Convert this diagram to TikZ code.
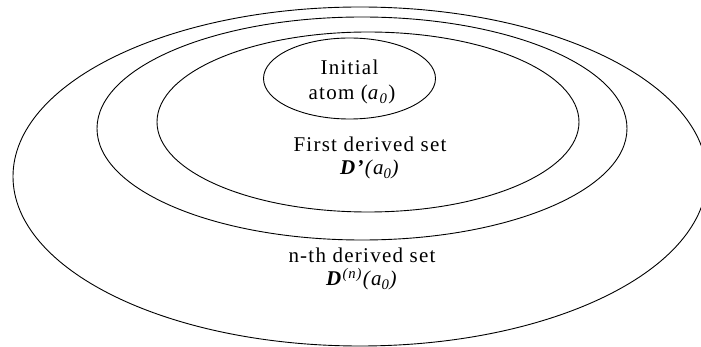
\documentclass[tikz,border=0pt]{standalone}
\usepackage{fontspec}
\setmainfont{Liberation Serif}[LetterSpace=6]
\usepackage{tikz}
\usetikzlibrary{shapes.geometric,positioning}
\newcommand{\azero}{\textit{a}\textsubscript{\textit{0}}}

\begin{document}
\begin{tikzpicture}[
  x=1pt, y=-1pt,
  set/.style={ellipse, draw, line width=0.9pt, inner sep=0pt},
  lbl/.style={anchor=base, inner sep=0pt, font=\fontsize{21}{25}\selectfont},
]
\useasboundingbox (0,0) rectangle (701,347);

% ---------------- nested sets ----------------
\node (nth)   [set, minimum width=694pt, minimum height=339pt] at (360,176.5) {};
\node (mid)   [set, minimum width=530pt, minimum height=223pt] at (362,128.5) {};
\node (first) [set, minimum width=422pt, minimum height=180pt] at (368,122) {};
\node (atom)  [set, minimum width=172pt, minimum height=81pt]  at (349.5,78.5) {};

% ---------------- labels ----------------
\node (atomA)  [lbl] at (349.5,75) {Initial};
\node (atomB)  [lbl] at (352,100)  {atom (\azero)};
\node (firstA) [lbl] at (370,152)  {First derived set};
\node (firstB) [lbl] at (370,175)  {\textbf{\textit{D'}}\textit{(\azero)}};
\node (nthA)   [lbl] at (362,262)  {n-th derived set};
\node (nthB)   [lbl] at (362,286)  {\textbf{\textit{D}}\textsuperscript{\textit{(n)}}\textit{(\azero)}};

\end{tikzpicture}
\end{document}
